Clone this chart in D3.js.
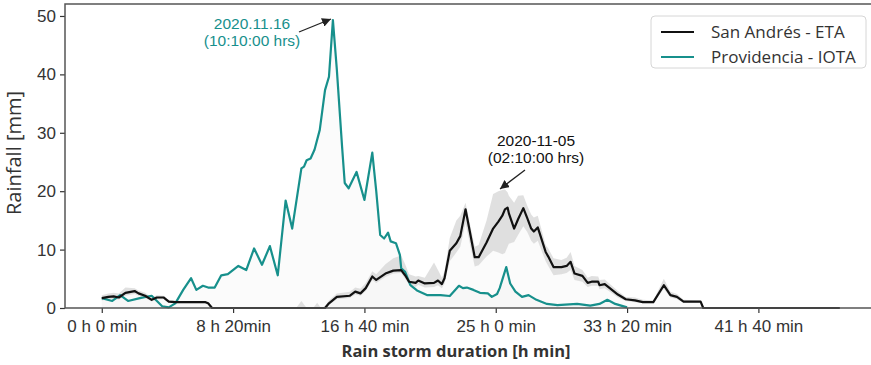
<!DOCTYPE html>
<html>
<head>
<meta charset="utf-8">
<script src="https://cdn.jsdelivr.net/npm/d3@7"></script>
<style>
    body { margin: 0; background: #fff; }
    svg { display: block; }
</style>
</head>
<body>
<div id="chart"></div>
<script>
// ---- data (minutes since storm start, rainfall in mm) ----
const etaTimes = [0, 25, 45, 65, 90, 125, 140, 165, 190, 210, 235, 255, 280, 395, 405, 420,
    740, 760, 780, 805, 820, 835, 850, 865, 895, 945, 965, 985, 1005, 1030, 1045, 1080, 1110,
    1140, 1155, 1170, 1195, 1205, 1230, 1265, 1280, 1295, 1305, 1325, 1350, 1365, 1385, 1420,
    1435, 1465, 1490, 1510, 1525, 1535, 1545, 1550, 1570, 1585, 1605, 1620, 1635, 1645, 1660,
    1690, 1700, 1720, 1750, 1770, 1785, 1800, 1830, 1850, 1865, 1890, 1895, 1915, 1940, 1965,
    1995, 2030, 2060, 2100, 2140, 2165, 2190, 2215, 2280, 2290, 2810];
const etaValues = [1.7, 1.9, 2.0, 1.8, 2.6, 2.9, 2.5, 2.1, 1.4, 1.8, 1.8, 1.1, 1.0, 1.0, 0.8, 0,
    0, 0, 0, 0, 0, 0, 0, 0.8, 1.9, 2.1, 2.8, 2.5, 3.4, 5.4, 4.8, 5.9, 6.4,
    6.5, 5.6, 4.5, 4.3, 4.7, 4.2, 4.3, 4.7, 4.1, 5.1, 9.8, 11.1, 12.3, 16.9, 8.7,
    8.7, 11.2, 13.6, 14.8, 15.8, 16.9, 17.2, 16.2, 13.6, 15.2, 17.1, 15.4, 13.6, 13.1, 13.8,
    9.6, 8.8, 7.0, 7.0, 7.2, 7.9, 5.9, 5.5, 4.3, 4.5, 4.5, 3.9, 4.1, 3.2, 2.3,
    1.5, 1.3, 1.0, 1.0, 3.9, 2.2, 1.9, 1.1, 1.1, 0, 0];
const etaLow = [1.3, 1.5, 1.6, 1.4, 2.1, 2.4, 2.1, 1.7, 1.1, 1.5, 1.5, 0.9, 0.8, 0.8, 0.6, 0,
    0, 0, 0, 0, 0, 0, 0, 0.5, 1.5, 1.7, 2.3, 2.1, 2.9, 4.8, 4.3, 5.3, 5.9,
    6.0, 5.0, 4.0, 3.6, 4.0, 3.5, 3.6, 3.9, 3.4, 4.2, 8.0, 9.5, 10.5, 14.5, 7.1,
    7.3, 8.8, 9.8, 9.5, 9.2, 9.4, 10.5, 11.0, 11.3, 12.5, 14.0, 13.0, 11.5, 11.0, 11.5,
    8.0, 7.2, 5.6, 5.8, 6.0, 6.5, 4.8, 4.5, 3.6, 3.8, 3.8, 3.2, 3.4, 2.6, 1.8,
    1.2, 1.0, 0.8, 0.8, 3.3, 1.8, 1.5, 0.9, 0.9, 0, 0];
const etaHigh = [2.2, 2.5, 2.6, 2.5, 3.5, 3.4, 3.0, 2.6, 1.8, 2.2, 2.1, 1.4, 1.2, 1.2, 1.0, 0.1,
    0, 1.2, 0, 0, 0.9, 0, 0.3, 1.3, 2.5, 2.8, 3.5, 3.3, 4.3, 6.3, 5.8, 7.5, 8.5,
    9.0, 7.5, 5.8, 5.4, 5.5, 5.2, 7.8, 6.5, 5.2, 6.3, 12.0, 15.0, 15.8, 18.0, 10.5,
    10.8, 15.0, 19.5, 20.0, 20.2, 20.3, 19.8, 19.2, 18.0, 19.2, 19.3, 17.5, 16.0, 15.5, 15.8,
    10.8, 10.2, 8.5, 8.2, 8.6, 9.6, 7.2, 6.5, 5.2, 5.5, 5.4, 4.8, 4.9, 3.9, 2.9,
    1.9, 1.8, 1.4, 1.3, 5.0, 2.8, 2.4, 1.4, 1.3, 0.1, 0];

const iotaTimes = [0, 40, 70, 100, 145, 190, 230, 255, 280, 310, 340, 360, 385, 405, 430, 455,
    480, 520, 550, 580, 610, 640, 670, 700, 725, 760, 770, 780, 795, 810, 830, 850, 865, 880,
    895, 915, 925, 940, 970, 1000, 1030, 1045, 1060, 1075, 1090, 1100, 1120, 1135, 1140, 1155,
    1175, 1200, 1240, 1290, 1325, 1360, 1375, 1390, 1415, 1440, 1470, 1485, 1505, 1515, 1540,
    1555, 1575, 1600, 1625, 1655, 1695, 1735, 1810, 1860, 1895, 1925, 1955, 2000];
const iotaValues = [1.7, 1.2, 2.2, 1.2, 1.7, 2.1, 0.3, 0.1, 0.8, 3.1, 5.1, 3.1, 3.8, 3.5, 3.5, 5.6,
    5.8, 7.2, 6.5, 10.2, 7.4, 10.6, 5.6, 18.4, 13.6, 23.9, 24.2, 25.3, 25.6, 27.1, 30.5, 37.3, 39.6, 49.3,
    40.8, 27.6, 21.4, 20.5, 23.3, 18.5, 26.6, 20.0, 12.5, 11.9, 12.9, 11.4, 11.1, 9.1, 6.8, 6.2,
    3.9, 3.0, 2.2, 2.2, 2.05, 3.8, 3.4, 3.5, 3.1, 2.6, 2.5, 1.9, 2.4, 3.4, 7.0,
    4.2, 2.8, 1.9, 2.2, 1.4, 0.7, 0.5, 0.7, 0.4, 0.7, 1.4, 0.7, 0.1];

const xTickValues = [0, 500, 1000, 1500, 2000, 2500];
const xTickLabels = ['0 h 0 min', '8 h 20min', '16 h 40 min', '25 h 0 min', '33 h 20 min', '41 h 40 min'];
const yTickValues = [0, 10, 20, 30, 40, 50];

const seriesNames = ['San Andrés - ETA', 'Providencia - IOTA'];

class RainfallChart {
    constructor(selector) {
        this.selector = selector;
        this.width = 871;
        this.height = 365;
        this.margin = { top: 4, right: -9, bottom: 57, left: 65 };

        this.colors = {
            eta: '#111111',
            iota: '#17908c',
            band: '#d6d6d6',
            text: '#333333'
        };

        this.initVis();
    }

    initVis() {
        let vis = this;

        vis.innerW = vis.width - vis.margin.left - vis.margin.right;
        vis.innerH = vis.height - vis.margin.top - vis.margin.bottom;

        vis.svg = d3.select(vis.selector).append('svg')
            .attr('width', vis.width)
            .attr('height', vis.height);

        vis.g = vis.svg.append('g')
            .attr('transform', `translate(${vis.margin.left}, ${vis.margin.top})`);

        // Scales
        vis.x = d3.scaleLinear()
            .domain([-140, 2963])
            .range([0, vis.innerW]);

        vis.y = d3.scaleLinear()
            .domain([0, 52.05])
            .range([vis.innerH, 0]);

        vis.eta = etaTimes.map((t, i) => ({ t: t, v: etaValues[i], lo: etaLow[i], hi: etaHigh[i] }));
        vis.iota = iotaTimes.map((t, i) => ({ t: t, v: iotaValues[i] }));

        vis.drawAreas();
        vis.drawLines();
        vis.drawAxes();
        vis.drawAnnotations();
        vis.drawLegend();
    }

    drawAreas() {
        let vis = this;

        // faint fill under both curves
        const under = d3.area()
            .x(d => vis.x(d.t))
            .y0(vis.y(0))
            .y1(d => vis.y(d.v));

        vis.g.append('path')
            .datum(vis.iota)
            .attr('d', under)
            .style('fill', '#e8e8e8')
            .style('fill-opacity', 0.18);

        vis.g.append('path')
            .datum(vis.eta)
            .attr('d', under)
            .style('fill', '#e8e8e8')
            .style('fill-opacity', 0.18);

        // uncertainty band around San Andrés
        const band = d3.area()
            .x(d => vis.x(d.t))
            .y0(d => vis.y(d.lo))
            .y1(d => vis.y(d.hi));

        vis.g.append('path')
            .datum(vis.eta)
            .attr('d', band)
            .style('fill', vis.colors.band)
            .style('fill-opacity', 0.75);
    }

    drawLines() {
        let vis = this;

        const line = d3.line()
            .x(d => vis.x(d.t))
            .y(d => vis.y(d.v));

        vis.g.append('path')
            .datum(vis.iota)
            .attr('d', line)
            .style('fill', 'none')
            .style('stroke', vis.colors.iota)
            .style('stroke-width', 2.2)
            .style('stroke-linejoin', 'round');

        vis.g.append('path')
            .datum(vis.eta)
            .attr('d', line)
            .style('fill', 'none')
            .style('stroke', vis.colors.eta)
            .style('stroke-width', 2.2)
            .style('stroke-linejoin', 'round');
    }

    drawAxes() {
        let vis = this;

        const xAxis = d3.axisBottom(vis.x)
            .tickValues(xTickValues)
            .tickFormat((d, i) => xTickLabels[i])
            .tickSize(5)
            .tickSizeOuter(0)
            .tickPadding(7);

        const yAxis = d3.axisLeft(vis.y)
            .tickValues(yTickValues)
            .tickSize(5)
            .tickSizeOuter(0)
            .tickPadding(4);

        const gx = vis.g.append('g')
            .attr('transform', `translate(0, ${vis.innerH})`)
            .call(xAxis);

        const gy = vis.g.append('g')
            .call(yAxis);

        [gx, gy].forEach(ax => {
            ax.select('.domain').remove();
            ax.selectAll('line').style('stroke', '#333').style('stroke-width', 1.2);
            ax.selectAll('text')
                .style('font-family', '"Liberation Sans", Arial, sans-serif')
                .style('font-size', '17px')
                .style('fill', vis.colors.text);
        });

        // frame (right edge sits just outside the picture)
        vis.g.append('rect')
            .attr('x', 0)
            .attr('y', 0)
            .attr('width', vis.innerW)
            .attr('height', vis.innerH)
            .style('fill', 'none')
            .style('stroke', '#555')
            .style('stroke-width', 1.5);

        // axis titles
        vis.svg.append('text')
            .attr('transform', 'translate(21, 153) rotate(-90)')
            .attr('text-anchor', 'middle')
            .style('font-family', '"Open Sans", sans-serif')
            .style('font-size', '20px')
            .style('fill', vis.colors.text)
            .text('Rainfall [mm]');

        vis.svg.append('text')
            .attr('x', 456)
            .attr('y', 357)
            .attr('text-anchor', 'middle')
            .style('font-family', '"Open Sans", sans-serif')
            .style('font-size', '16.5px')
            .style('font-weight', 'bold')
            .style('fill', vis.colors.text)
            .text('Rain storm duration [h min]');
    }

    drawAnnotations() {
        let vis = this;

        vis.svg.append('defs').append('marker')
            .attr('id', 'arrowhead')
            .attr('viewBox', '0 0 10 10')
            .attr('refX', 10)
            .attr('refY', 5)
            .attr('markerWidth', 9)
            .attr('markerHeight', 9)
            .attr('markerUnits', 'userSpaceOnUse')
            .attr('orient', 'auto')
            .append('path')
            .attr('d', 'M0,0 L10,5 L0,10 Z')
            .style('fill', '#222');

        const notes = [
            { lines: ['2020.11.16', '(10:10:00 hrs)'], x: 252, y: 29, color: vis.colors.iota,
              from: [299, 32], to: [331, 19] },
            { lines: ['2020-11-05', '(02:10:00 hrs)'], x: 536, y: 146, color: '#111',
              from: [525, 170], to: [500, 189] }
        ];

        notes.forEach(n => {
            const txt = vis.svg.append('text')
                .attr('text-anchor', 'middle')
                .style('font-family', '"Liberation Sans", Arial, sans-serif')
                .style('font-size', '15.5px')
                .style('fill', n.color);

            n.lines.forEach((l, i) => {
                txt.append('tspan')
                    .attr('x', n.x)
                    .attr('y', n.y + i * 17)
                    .text(l);
            });

            vis.svg.append('line')
                .attr('x1', n.from[0])
                .attr('y1', n.from[1])
                .attr('x2', n.to[0])
                .attr('y2', n.to[1])
                .style('stroke', '#222')
                .style('stroke-width', 1.3)
                .attr('marker-end', 'url(#arrowhead)');
        });
    }

    drawLegend() {
        let vis = this;

        const lg = vis.svg.append('g')
            .attr('transform', 'translate(651, 16)');

        lg.append('rect')
            .attr('width', 215)
            .attr('height', 52)
            .attr('rx', 4)
            .style('fill', '#fff')
            .style('fill-opacity', 0.8)
            .style('stroke', '#d6d6d6');

        const colors = [vis.colors.eta, vis.colors.iota];
        seriesNames.forEach((name, i) => {
            lg.append('line')
                .attr('x1', 10)
                .attr('x2', 43)
                .attr('y1', 16 + i * 25)
                .attr('y2', 16 + i * 25)
                .style('stroke', colors[i])
                .style('stroke-width', 2.2);

            lg.append('text')
                .attr('x', 60)
                .attr('y', 22 + i * 25)
                .style('font-family', '"Open Sans", sans-serif')
                .style('font-size', '17px')
                .style('fill', vis.colors.text)
                .text(name);
        });
    }
}

new RainfallChart('#chart');
</script>
</body>
</html>
